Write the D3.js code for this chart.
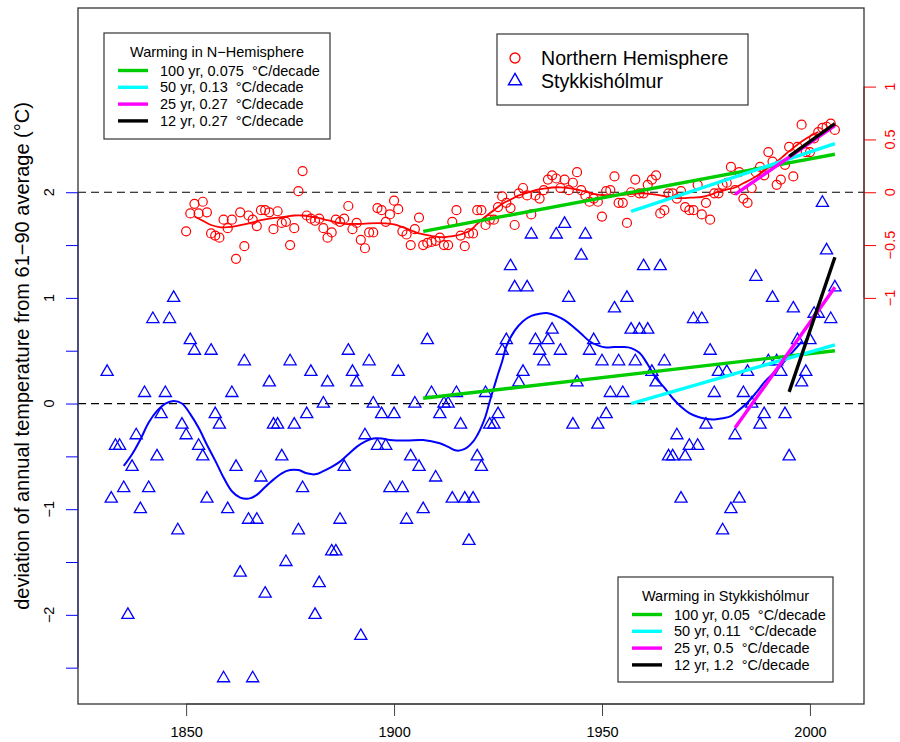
<!DOCTYPE html>
<html><head><meta charset="utf-8">
<script src="https://cdn.jsdelivr.net/npm/d3@7"></script>
<style>
body{margin:0;background:#fff}
svg{display:block}
text{font-family:"Liberation Sans",Arial,Helvetica,sans-serif;white-space:pre}
</style>
</head><body>
<svg id="chart" width="900" height="742"></svg>
<script>
// ---------------- DATA ----------------
const nhStartYear = 1850;
// Northern Hemisphere annual anomaly (°C, vs 1961-90), right axis
const nhValues = [
 -0.37,-0.20,-0.11,-0.20,-0.09,-0.19,-0.39,-0.41,-0.43,-0.26,
 -0.34,-0.26,-0.63,-0.19,-0.51,-0.22,-0.26,-0.32,-0.17,-0.17,
 -0.19,-0.35,-0.18,-0.29,-0.28,-0.50,-0.34, 0.01, 0.20,-0.22,
 -0.25,-0.27,-0.25,-0.34,-0.43,-0.38,-0.26,-0.28,-0.25,-0.13,
 -0.35,-0.29,-0.45,-0.53,-0.38,-0.38,-0.15,-0.17,-0.28,-0.21,
 -0.08,-0.16,-0.37,-0.40,-0.50,-0.35,-0.24,-0.50,-0.48,-0.47,
 -0.46,-0.43,-0.50,-0.50,-0.28,-0.17,-0.41,-0.51,-0.39,-0.39,
 -0.17,-0.17,-0.31,-0.26,-0.26,-0.14,-0.04,-0.10,-0.15,-0.31,
 -0.01, 0.04,-0.03,-0.21,-0.03,-0.06, 0.02, 0.12, 0.16, 0.13,
  0.04, 0.12, 0.02, 0.09, 0.19, 0.02,-0.03,-0.09,-0.06,-0.09,
 -0.23, 0.01, 0.02, 0.15,-0.10,-0.10,-0.29, 0.00, 0.12,-0.01,
 -0.01, 0.07, 0.12, 0.16,-0.20,-0.17,-0.01,-0.01,-0.06, 0.01,
 -0.14,-0.17,-0.17, 0.07,-0.21,-0.10,-0.26,-0.01,-0.01, 0.07,
  0.09, 0.24, 0.02, 0.19,-0.06,-0.10, 0.04, 0.19, 0.24, 0.16,
  0.38, 0.29, 0.07, 0.12, 0.26, 0.43, 0.15, 0.43, 0.64, 0.38,
  0.38, 0.51, 0.57, 0.61, 0.62, 0.65, 0.59
];
const styStartYear = 1831;
// Stykkisholmur annual anomaly (°C, vs 1961-90), left axis
const styValues = [
  0.3,-0.9,-0.4,-0.4,-0.8,-2.0,-0.6,-0.3,-1.0, 0.1,
 -0.8, 0.8,-0.5,-0.1, 0.1, 0.8, 1.0,-1.2,-0.2,-0.3,
  0.6, 0.5,-0.4,-0.5,-0.9, 0.5,-0.1,-0.2,-2.6,-1.0,
  0.1,-0.6,-1.6, 0.4,-1.1,-2.6,-1.1,-0.7,-1.8, 0.2,
 -0.2,-0.2,-0.5,-1.5, 0.4,-0.2,-1.2,-0.8,-0.1, 0.3,
 -2.0,-1.7, 0.0, 0.2,-1.4,-1.4,-1.1,-0.6, 0.5, 0.3,
  0.2,-2.2,-0.3, 0.4, 0.0,-0.4,-0.1,-0.4,-0.8,-0.1,
  0.3,-0.8,-1.1,-0.5, 0.0,-0.6,-1.0, 0.6, 0.1,-0.7,
 -0.1, 0.0, 0.0,-0.9, 0.1,-0.2,-0.9,-1.3,-0.9,-0.5,
 -0.6, 0.1,-0.2,-0.2,-0.1, 0.5, 0.6, 1.3, 1.1, 0.2,
  0.3, 1.1, 1.6, 0.6, 0.5, 0.4, 0.6, 0.7, 1.6, 0.5,
  1.7, 1.0,-0.2, 0.2, 1.4, 1.6, 0.5, 0.6,-0.2, 0.4,
 -0.1, 0.1, 0.9, 0.4, 0.1, 1.0, 0.7, 0.4, 0.7, 1.3,
  0.7, 0.3, 0.2, 1.3, 0.4,-0.5,-0.5,-0.3,-0.9,-0.5,
 -0.4, 0.8,-0.4, 0.8,-0.2, 0.5, 0.1, 0.3,-1.2, 0.3,
 -1.0,-0.3,-0.9, 0.1, 0.3, 0.0, 1.2,-0.2,-0.1, 0.4,
  1.0, 0.4, 0.3,-0.1,-0.5, 0.9, 0.6, 0.2, 0.3, 0.6,
  0.85, 0.85, 1.9, 1.45, 0.8, 1.1
];
// smoothed curves
const nhSmoothYears = [1852,1854,1856,1858,1860,1862,1864,1866,1868,1870,1872,1874,1876,1878,1880,1882,1884,1886,1888,1890,1892,1894,1896,1898,1900,1902,1904,1906,1908,1910,1912,1914,1916,1918,1920,1922,1924,1926,1928,1930,1932,1934,1936,1938,1940,1942,1944,1946,1948,1950,1952,1954,1956,1958,1960,1962,1964,1966,1968,1970,1972,1974,1976,1978,1980,1982,1984,1986,1988,1990,1992,1994,1996,1998,2000,2002];
const nhSmoothValues = [-0.23,-0.27,-0.31,-0.33,-0.33,-0.32,-0.305,-0.285,-0.265,-0.25,-0.24,-0.23,-0.22,-0.22,-0.23,-0.245,-0.265,-0.285,-0.30,-0.30,-0.30,-0.295,-0.293,-0.295,-0.305,-0.33,-0.36,-0.39,-0.405,-0.42,-0.426,-0.415,-0.40,-0.37,-0.30,-0.23,-0.17,-0.11,-0.07,-0.03,-0.005,0.02,0.035,0.045,0.047,0.04,0.025,0.005,-0.015,-0.026,-0.028,-0.026,-0.02,-0.012,-0.01,-0.018,-0.03,-0.045,-0.055,-0.055,-0.05,-0.045,-0.025,0.005,0.025,0.045,0.085,0.125,0.175,0.235,0.29,0.355,0.42,0.48,0.53,0.57];
const stySmoothYears = [1835,1837,1839,1841,1843,1845,1847,1849,1851,1853,1855,1857,1859,1861,1863,1865,1867,1869,1871,1873,1875,1877,1879,1881,1883,1885,1887,1889,1891,1893,1895,1897,1899,1903,1907,1911,1913,1915,1917,1919,1920,1921,1922,1923,1924,1925,1926,1927,1929,1931,1933,1935,1937,1939,1941,1943,1945,1947,1949,1951,1953,1955,1957,1959,1961,1963,1965,1967,1969,1971,1973,1975,1977,1979,1981,1983,1985,1987,1989,1991,1993,1995,1997,1998];
const stySmoothValues = [-0.59,-0.48,-0.34,-0.18,-0.07,0.0,0.025,0.0,-0.10,-0.23,-0.39,-0.54,-0.70,-0.83,-0.89,-0.90,-0.865,-0.79,-0.72,-0.66,-0.63,-0.63,-0.66,-0.67,-0.64,-0.60,-0.55,-0.48,-0.41,-0.36,-0.33,-0.33,-0.345,-0.35,-0.345,-0.376,-0.41,-0.445,-0.43,-0.36,-0.30,-0.22,-0.12,0.02,0.15,0.28,0.40,0.54,0.69,0.78,0.83,0.85,0.855,0.83,0.79,0.73,0.66,0.59,0.55,0.53,0.535,0.535,0.525,0.48,0.37,0.24,0.15,0.05,-0.03,-0.09,-0.125,-0.145,-0.15,-0.14,-0.12,-0.06,0.01,0.10,0.20,0.28,0.36,0.45,0.54,0.585];
// linear trends: start/end year and fitted values
const trendColors = ["#00CD00","#00FFFF","#FF00FF","#000000"];
const trendStartYears = [1907,1957,1982,1995];
const trendEndYears = [2006,2006,2006,2006];
const nhTrendStart = [-0.37,-0.18,-0.02,0.34];
const nhTrendEnd = [0.36,0.46,0.63,0.65];
const styTrendStart = [0.05,0.0,-0.23,0.11];
const styTrendEnd = [0.50,0.555,1.10,1.385];
const nhLegendLabels = ["100 yr, 0.075  °C/decade","50 yr, 0.13  °C/decade","25 yr, 0.27  °C/decade","12 yr, 0.27  °C/decade"];
const styLegendLabels = ["100 yr, 0.05  °C/decade","50 yr, 0.11  °C/decade","25 yr, 0.5  °C/decade","12 yr, 1.2  °C/decade"];
const seriesNames = ["Northern Hemisphere","Stykkishólmur"];
const xTickValues = [1850,1900,1950,2000];
const yTickLabels = [-2,-1,0,1,2];
const yTickMarks = [-2.5,-2,-1.5,-1,-0.5,0,0.5,1,1.5,2];
const rightTickValues = [-1,-0.5,0,0.5,1];
const nhOffset = 2;

// ---------------- CHART ----------------
const svg = d3.select("#chart");
const L = 78, R = 864, T = 8, B = 704;
const x = d3.scaleLinear().domain([1824, 2013]).range([L, R]);
const y = d3.scaleLinear().domain([-2.844, 3.744]).range([B, T]);
const fmt = d3.format("");
const FS = 14.5;

const nhData = nhValues.map((v,i)=>({year:nhStartYear+i, v:v+nhOffset}));
const styData = styValues.map((v,i)=>({year:styStartYear+i, v:v}));

// dashed reference lines
svg.append("g").selectAll("line").data([0, nhOffset]).join("line")
  .attr("x1", L).attr("x2", R).attr("y1", d=>y(d)).attr("y2", d=>y(d))
  .attr("stroke","#000").attr("stroke-width",1.2).attr("stroke-dasharray","8,5");

// points
svg.append("g").selectAll("circle").data(nhData).join("circle")
  .attr("cx", d=>x(d.year)).attr("cy", d=>y(d.v)).attr("r",4.5)
  .attr("fill","none").attr("stroke","#FF0000").attr("stroke-width",1.2);

const tri = d3.symbol().type(d3.symbolTriangle).size(64);
svg.append("g").selectAll("path").data(styData).join("path")
  .attr("d", tri).attr("transform", d=>`translate(${x(d.year)},${y(d.v)})`)
  .attr("fill","none").attr("stroke","#0000FF").attr("stroke-width",1.3);

// smooth curves
const line = d3.line().x(d=>x(d[0])).y(d=>y(d[1])).curve(d3.curveCatmullRom);
svg.append("path").datum(nhSmoothYears.map((yr,i)=>[yr, nhSmoothValues[i]+nhOffset]))
  .attr("d", line).attr("fill","none").attr("stroke","#FF0000").attr("stroke-width",1.8);
svg.append("path").datum(stySmoothYears.map((yr,i)=>[yr, stySmoothValues[i]]))
  .attr("d", line).attr("fill","none").attr("stroke","#0000FF").attr("stroke-width",2);

// trend lines
const tg = svg.append("g");
trendColors.forEach((c,i)=>{
  tg.append("line")
    .attr("x1", x(trendStartYears[i])).attr("x2", x(trendEndYears[i]))
    .attr("y1", y(nhTrendStart[i]+nhOffset)).attr("y2", y(nhTrendEnd[i]+nhOffset))
    .attr("stroke", c).attr("stroke-width",3.4);
});
trendColors.forEach((c,i)=>{
  tg.append("line")
    .attr("x1", x(trendStartYears[i])).attr("x2", x(trendEndYears[i]))
    .attr("y1", y(styTrendStart[i])).attr("y2", y(styTrendEnd[i]))
    .attr("stroke", c).attr("stroke-width",3.4);
});

// axes
const xAxis = d3.axisBottom(x).tickValues(xTickValues).tickSize(12).tickPadding(11).tickFormat(fmt);
const gx = svg.append("g").attr("transform",`translate(0,${B})`).call(xAxis);
gx.select(".domain").attr("stroke","#444").attr("d", `M${x(xTickValues[0])},0H${x(xTickValues[xTickValues.length-1])}`);
gx.selectAll(".tick line").attr("stroke","#444");
gx.selectAll("text").attr("font-size",FS).attr("fill","#000").style("font-family",'"Liberation Sans",Arial,sans-serif');

const yAxis = d3.axisLeft(y).tickValues(yTickMarks).tickSize(12).tickFormat("");
const gy = svg.append("g").attr("transform",`translate(${L},0)`).call(yAxis);
gy.select(".domain").attr("stroke","#0000FF").attr("d", `M0,${y(yTickMarks[0])}V${y(yTickMarks[yTickMarks.length-1])}`);
gy.selectAll(".tick line").attr("stroke","#0000FF");
svg.append("g").selectAll("text").data(yTickLabels).join("text")
  .attr("transform", d=>`translate(49,${y(d)}) rotate(-90)`)
  .attr("text-anchor","middle").attr("dy","0.35em").attr("font-size",FS).text(fmt);

const rAxis = d3.axisRight(y).tickValues(rightTickValues.map(v=>v+nhOffset)).tickSize(12).tickFormat("");
const gr = svg.append("g").attr("transform",`translate(${R},0)`).call(rAxis);
gr.select(".domain").attr("stroke","#FF0000").attr("d", `M0,${y(rightTickValues[0]+nhOffset)}V${y(rightTickValues[rightTickValues.length-1]+nhOffset)}`);
gr.selectAll(".tick line").attr("stroke","#FF0000");
svg.append("g").selectAll("text").data(rightTickValues).join("text")
  .attr("transform", d=>`translate(890,${y(d+nhOffset)}) rotate(-90)`)
  .attr("text-anchor","middle").attr("dy","0.35em").attr("font-size",FS).attr("fill","#FF0000").text(fmt);

// axis title
svg.append("text").attr("transform",`translate(22,${(T+B)/2}) rotate(-90)`)
  .attr("text-anchor","middle").attr("dy","0.35em").attr("font-size",20)
  .text("deviation of annual temperature from 61\u221290 average (°C)");

// frame
svg.append("rect").attr("x",L).attr("y",T).attr("width",R-L).attr("height",B-T)
  .attr("fill","none").attr("stroke","#333").attr("stroke-width",1.3);

// legends
function trendLegend(x0,y0,w,h,title,labels){
  const g = svg.append("g");
  g.append("rect").attr("x",x0).attr("y",y0).attr("width",w).attr("height",h)
    .attr("fill","#fff").attr("stroke","#333").attr("stroke-width",1.2);
  g.append("text").attr("x",x0+w/2).attr("y",y0+24).attr("text-anchor","middle").attr("font-size",FS).text(title);
  labels.forEach((t,i)=>{
    const yy = y0+37.5+i*16.8;
    g.append("line").attr("x1",x0+14).attr("x2",x0+44).attr("y1",yy).attr("y2",yy)
      .attr("stroke",trendColors[i]).attr("stroke-width",3.4);
    g.append("text").attr("x",x0+56).attr("y",yy).attr("dy","0.35em").attr("font-size",FS).text(t);
  });
}
trendLegend(104,33,226,106,"Warming in N\u2212Hemisphere",nhLegendLabels);
trendLegend(618,577,215,105,"Warming in Stykkishólmur",styLegendLabels);

const lg = svg.append("g");
lg.append("rect").attr("x",497).attr("y",34).attr("width",251).attr("height",71)
  .attr("fill","#fff").attr("stroke","#333").attr("stroke-width",1.2);
lg.append("circle").attr("cx",515).attr("cy",58).attr("r",5)
  .attr("fill","none").attr("stroke","#FF0000").attr("stroke-width",1.3);
lg.append("path").attr("d",d3.symbol().type(d3.symbolTriangle).size(75))
  .attr("transform","translate(515,81)").attr("fill","none").attr("stroke","#0000FF").attr("stroke-width",1.4);
seriesNames.forEach((t,i)=>{
  lg.append("text").attr("x",541).attr("y",58+i*23).attr("dy","0.35em").attr("font-size",19.6).text(t);
});
</script>
</body></html>
